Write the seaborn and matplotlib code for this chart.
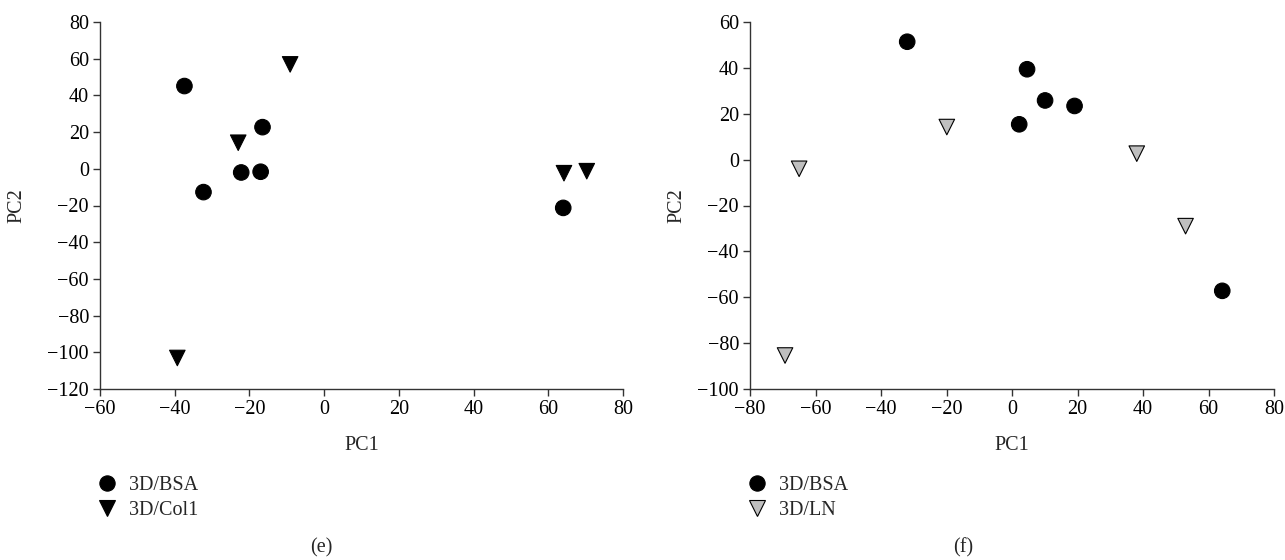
import pandas as pd
import matplotlib
matplotlib.use("Agg")
import matplotlib.pyplot as plt
import seaborn as sns

# panel (e): PC scores, 3D/BSA vs 3D/Col1
e_bsa_x = [-37.4, -32.3, -22.2, -17.0, -16.5, 64.0]
e_bsa_y = [45.1, -12.7, -2.0, -1.6, 22.7, -21.3]
e_col1_x = [-9.1, -23.0, -39.3, 64.2, 70.3]
e_col1_y = [56.9, 14.2, -103.1, -2.4, -1.3]

# panel (f): PC scores, 3D/BSA vs 3D/LN
f_bsa_x = [-32.0, 4.6, 10.1, 19.1, 2.2, 64.2]
f_bsa_y = [51.4, 39.4, 25.8, 23.4, 15.4, -57.2]
f_ln_x = [-65.0, -19.9, 38.1, 53.0, -69.3]
f_ln_y = [-4.0, 14.2, 2.6, -29.0, -85.4]

e_xticks = list(range(-60, 81, 20))
e_yticks = list(range(-120, 81, 20))
f_xticks = list(range(-80, 81, 20))
f_yticks = list(range(-100, 61, 20))

FS = 14.5


def make_df(x1, y1, name1, x2, y2, name2):
    return pd.concat([
        pd.DataFrame({"PC1": x1, "PC2": y1, "group": name1}),
        pd.DataFrame({"PC1": x2, "PC2": y2, "group": name2}),
    ], ignore_index=True)


sns.set_theme(style="ticks")
plt.rcParams["font.family"] = ["Liberation Serif", "DejaVu Serif"]
plt.rcParams["font.size"] = FS
plt.rcParams["axes.unicode_minus"] = True

fig = plt.figure(figsize=(12.85, 5.6), dpi=100)
ax_e = fig.add_axes([100 / 1285, 1 - 389 / 560, 523 / 1285, 367 / 560])
ax_f = fig.add_axes([750 / 1285, 1 - 389 / 560, 524 / 1285, 367 / 560])

df_e = make_df(e_bsa_x, e_bsa_y, "3D/BSA", e_col1_x, e_col1_y, "3D/Col1")
df_f = make_df(f_bsa_x, f_bsa_y, "3D/BSA", f_ln_x, f_ln_y, "3D/LN")

panels = [
    (ax_e, df_e, {"3D/BSA": "o", "3D/Col1": "v"},
     {"3D/BSA": "black", "3D/Col1": "black"},
     e_xticks, e_yticks, -0.140, 97 / 1285),
    (ax_f, df_f, {"3D/BSA": "o", "3D/LN": "v"},
     {"3D/BSA": "black", "3D/LN": "#bfbfbf"},
     f_xticks, f_yticks, -0.122, 747 / 1285),
]

for ax, df, markers, palette, xt, yt, ylab_x, leg_x in panels:
    sns.scatterplot(data=df, x="PC1", y="PC2", hue="group", style="group",
                    markers=markers, palette=palette, s=125,
                    edgecolor="black", linewidth=0.8, ax=ax)
    ax.set_xlim(xt[0], xt[-1])
    ax.set_ylim(yt[0], yt[-1])
    ax.set_xticks(xt)
    ax.set_yticks(yt)
    sns.despine(ax=ax)
    for side in ["left", "bottom"]:
        ax.spines[side].set_color("#333333")
        ax.spines[side].set_linewidth(1.0)
    ax.tick_params(direction="out", length=5, width=1.0, color="#333333",
                   labelsize=FS, labelcolor="black", pad=3)
    ax.set_xlabel("PC1", fontsize=FS)
    ax.set_ylabel("PC2", fontsize=FS)
    ax.xaxis.set_label_coords(0.5, -0.129)
    ax.yaxis.set_label_coords(ylab_x, 0.5)

    sns.move_legend(ax, loc="upper left", bbox_to_anchor=(leg_x, 1 - 476 / 560),
                    bbox_transform=fig.transFigure, frameon=False, title=None,
                    fontsize=FS, handlelength=1.0, handletextpad=0.6,
                    labelspacing=0.27, borderpad=0, borderaxespad=0)
    for h in ax.get_legend().legend_handles:
        h.set_markersize(11)
        h.set_markeredgecolor("black")
        h.set_markeredgewidth(0.8)

fig.text(321 / 1285, 1 - 548 / 560, "(e)", ha="center", va="center", fontsize=FS)
fig.text(963 / 1285, 1 - 548 / 560, "(f)", ha="center", va="center", fontsize=FS)

fig.savefig("out.png", dpi=100)
